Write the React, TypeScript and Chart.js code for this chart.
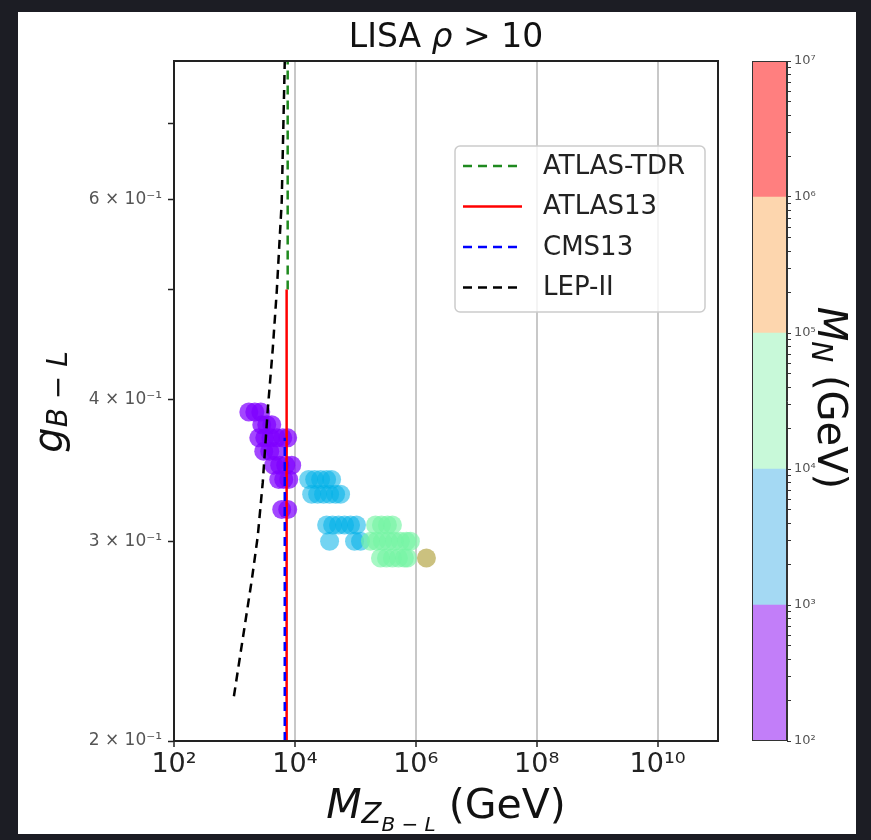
import React, { useEffect, useRef } from 'react';
import { Chart, registerables } from 'chart.js';
Chart.register(...registerables);

const FONT = 'DejaVu Sans';

// ---- axis ticks ----
const xTickValues = [1e2, 1e4, 1e6, 1e8, 1e10];
const xTickLabels = ['10²', '10⁴', '10⁶', '10⁸', '10¹⁰'];
const yTickValues = [0.2, 0.3, 0.4, 0.5, 0.6, 0.7];
const yTickLabels = ['2 × 10⁻¹', '3 × 10⁻¹', '4 × 10⁻¹', '', '6 × 10⁻¹', ''];
const xRange = [1e2, 1e11];
const yRange = [0.2, 0.795];

// ---- colorbar (M_N bins) ----
const cbBounds = [1e2, 1e3, 1e4, 1e5, 1e6, 1e7];
const cbTickLabels = ['10²', '10³', '10⁴', '10⁵', '10⁶', '10⁷'];
const cbColors = ['#c27ef9', '#a4d9f3', '#c8f9d9', '#fdd6ae', '#ff7f7f'];

// ---- collider limits ----
const atlasTdrM = [7600, 7600];
const atlasTdrG = [0.5, 0.795];
const atlas13M = [7300, 7300];
const atlas13G = [0.2, 0.5];
const cms13M = [6800, 6800];
const cms13G = [0.2, 0.37];
const lepM = [980, 1940, 2430, 2940, 3560, 4300, 5010, 6050, 6800];
const lepG = [0.219, 0.2775, 0.303, 0.338, 0.392, 0.443, 0.498, 0.597, 0.795];

// ---- LISA points (M_Z' in GeV, g_B-L), grouped by M_N bin ----
const purpleM = [1729, 2171, 2727, 2832, 3424, 4142, 2527, 3175, 3988, 5009, 6292, 7606, 3055, 3838, 4823, 4469, 5614, 7051, 8856, 5404, 6535, 7903, 6055, 7606];
const purpleG = [0.39, 0.39, 0.39, 0.38, 0.38, 0.38, 0.37, 0.37, 0.37, 0.37, 0.37, 0.37, 0.36, 0.36, 0.36, 0.35, 0.35, 0.35, 0.35, 0.34, 0.34, 0.34, 0.32, 0.32];
const blueM = [16890, 21220, 26660, 33480, 40480, 18930, 23780, 29870, 37520, 47130, 57000, 33480, 42050, 52820, 66350, 83340, 104700, 37520, 97000, 121800];
const blueG = [0.34, 0.34, 0.34, 0.34, 0.34, 0.33, 0.33, 0.33, 0.33, 0.33, 0.33, 0.31, 0.31, 0.31, 0.31, 0.31, 0.31, 0.30, 0.30, 0.30];
const greenM = [215400, 270600, 339900, 411000, 178100, 223800, 281100, 353100, 443600, 557200, 699900, 814400, 260400, 327200, 411000, 516300, 648500, 726900];
const greenG = [0.31, 0.31, 0.31, 0.31, 0.30, 0.30, 0.30, 0.30, 0.30, 0.30, 0.30, 0.30, 0.29, 0.29, 0.29, 0.29, 0.29, 0.29];
const orangeM = [1500000];
const orangeG = [0.29];

const zip = (xs: number[], ys: number[]) => xs.map((x, i) => ({ x, y: ys[i] }));

type Seg = { text: string; font: string; dy: number };

function drawSegs(ctx: CanvasRenderingContext2D, segs: Seg[], cx: number, y: number) {
  let total = 0;
  const widths = segs.map((s) => {
    ctx.font = s.font;
    const w = ctx.measureText(s.text).width;
    total += w;
    return w;
  });
  let x = cx - total / 2;
  ctx.textAlign = 'left';
  ctx.textBaseline = 'alphabetic';
  segs.forEach((s, i) => {
    ctx.font = s.font;
    ctx.fillText(s.text, x, y + s.dy);
    x += widths[i];
  });
}

const decorPlugin = {
  id: 'decor',
  afterDraw(chart: any) {
    const ctx: CanvasRenderingContext2D = chart.ctx;
    const a = chart.chartArea;
    ctx.save();
    ctx.setLineDash([]);
    ctx.strokeStyle = '#222';
    ctx.lineWidth = 2;
    ctx.strokeRect(a.left, a.top, a.right - a.left, a.bottom - a.top);

    // legend
    const bx = 455, by = 146, bw = 250, bh = 166, r = 5;
    ctx.beginPath();
    ctx.moveTo(bx + r, by);
    ctx.arcTo(bx + bw, by, bx + bw, by + bh, r);
    ctx.arcTo(bx + bw, by + bh, bx, by + bh, r);
    ctx.arcTo(bx, by + bh, bx, by, r);
    ctx.arcTo(bx, by, bx + bw, by, r);
    ctx.closePath();
    ctx.fillStyle = 'rgba(255,255,255,0.8)';
    ctx.fill();
    ctx.strokeStyle = '#cccccc';
    ctx.lineWidth = 1.5;
    ctx.stroke();
    const lines = chart.data.datasets.filter((d: any) => d.showLine);
    lines.forEach((d: any, i: number) => {
      const yy = 166 + i * 40.5;
      ctx.beginPath();
      ctx.setLineDash(d.borderDash || []);
      ctx.strokeStyle = d.borderColor;
      ctx.lineWidth = d.borderWidth;
      ctx.moveTo(463, yy);
      ctx.lineTo(522, yy);
      ctx.stroke();
      ctx.setLineDash([]);
      ctx.fillStyle = '#222';
      ctx.font = `26px "${FONT}"`;
      ctx.textAlign = 'left';
      ctx.textBaseline = 'middle';
      ctx.fillText(d.label, 543, yy + 1);
    });

    ctx.fillStyle = '#111';
    const cx = (a.left + a.right) / 2;
    // title
    drawSegs(ctx, [
      { text: 'LISA ', font: `33px "${FONT}"`, dy: 0 },
      { text: 'ρ', font: `italic 33px "${FONT}"`, dy: 0 },
      { text: ' > 10', font: `33px "${FONT}"`, dy: 0 },
    ], cx, 47);
    // x title
    drawSegs(ctx, [
      { text: 'M', font: `italic 41px "${FONT}"`, dy: 0 },
      { text: 'Z', font: `italic 29px "${FONT}"`, dy: 5 },
      { text: 'B − L', font: `italic 20px "${FONT}"`, dy: 13 },
      { text: ' (GeV)', font: `41px "${FONT}"`, dy: 0 },
    ], cx, 818);
    // y title
    ctx.save();
    ctx.translate(62, 402);
    ctx.rotate(-Math.PI / 2);
    drawSegs(ctx, [
      { text: 'g', font: `italic 40px "${FONT}"`, dy: 0 },
      { text: 'B − L', font: `italic 28px "${FONT}"`, dy: 5 },
    ], 0, 0);
    ctx.restore();
    // colorbar label
    ctx.save();
    ctx.translate(818, 398);
    ctx.rotate(Math.PI / 2);
    drawSegs(ctx, [
      { text: 'M', font: `italic 40px "${FONT}"`, dy: 0 },
      { text: 'N', font: `italic 28px "${FONT}"`, dy: 6 },
      { text: ' (GeV)', font: `40px "${FONT}"`, dy: 0 },
    ], 0, 0);
    ctx.restore();
    ctx.restore();
  },
};

const cbFramePlugin = {
  id: 'cbframe',
  afterDraw(chart: any) {
    const ctx: CanvasRenderingContext2D = chart.ctx;
    const a = chart.chartArea;
    ctx.save();
    ctx.strokeStyle = '#333';
    ctx.lineWidth = 1;
    ctx.strokeRect(a.left + 0.5, a.top + 0.5, a.right - a.left - 1, a.bottom - a.top - 1);
    ctx.restore();
  },
};

export default function App() {
  const mainRef = useRef<HTMLCanvasElement>(null);
  const cbRef = useRef<HTMLCanvasElement>(null);

  useEffect(() => {
    const lineDs = (label: string, xs: number[], ys: number[], color: string, dash: number[], width: number, order: number) => ({
      type: 'scatter' as const,
      label,
      data: zip(xs, ys),
      showLine: true,
      borderColor: color,
      backgroundColor: color,
      borderDash: dash,
      borderWidth: width,
      pointRadius: 0,
      pointHoverRadius: 0,
      fill: false,
      order,
    });
    const ptDs = (label: string, xs: number[], ys: number[], color: string, order: number) => ({
      type: 'scatter' as const,
      label,
      data: zip(xs, ys),
      showLine: false,
      backgroundColor: color,
      borderWidth: 0,
      pointRadius: 9.5,
      pointHoverRadius: 9.5,
      order,
    });

    const main = new Chart(mainRef.current!, {
      type: 'scatter',
      data: {
        datasets: [
          lineDs('ATLAS-TDR', atlasTdrM, atlasTdrG, '#1f8a1f', [9, 6], 2.5, 4),
          lineDs('ATLAS13', atlas13M, atlas13G, '#ff0000', [], 2.5, 3),
          lineDs('CMS13', cms13M, cms13G, '#0000ff', [9, 6], 2.5, 1),
          lineDs('LEP-II', lepM, lepG, '#000000', [9, 6], 2.5, 2),
          ptDs('p1', purpleM, purpleG, 'rgba(128,0,255,0.72)', 13),
          ptDs('p2', blueM, blueG, 'rgba(0,176,232,0.55)', 14),
          ptDs('p3', greenM, greenG, 'rgba(118,245,165,0.65)', 12),
          ptDs('p4', orangeM, orangeG, 'rgba(190,178,95,0.8)', 11),
        ] as any,
      },
      options: {
        animation: false,
        responsive: false,
        devicePixelRatio: 1,
        events: [],
        layout: { padding: { left: 0, right: 153, top: 61, bottom: 0 } },
        plugins: { legend: { display: false }, tooltip: { enabled: false }, title: { display: false } },
        scales: {
          x: {
            type: 'logarithmic',
            min: xRange[0],
            max: xRange[1],
            afterBuildTicks: (s: any) => { s.ticks = xTickValues.map((v) => ({ value: v })); },
            afterFit: (s: any) => { s.height = 99; },
            ticks: {
              autoSkip: false,
              maxRotation: 0,
              padding: 2,
              color: '#222',
              font: { family: FONT, size: 27 },
              callback: (_v: any, i: number) => xTickLabels[i],
            },
            grid: { color: '#c8c8c8', lineWidth: 2, tickLength: 6, tickColor: '#222', tickWidth: 1.5 },
            border: { display: true, color: '#222', width: 2 },
          },
          y: {
            type: 'logarithmic',
            min: yRange[0],
            max: yRange[1],
            afterBuildTicks: (s: any) => { s.ticks = yTickValues.map((v) => ({ value: v })); },
            afterFit: (s: any) => { s.width = 174; },
            ticks: {
              autoSkip: false,
              padding: 6,
              color: '#555',
              font: { family: FONT, size: 17 },
              callback: (_v: any, i: number) => yTickLabels[i],
            },
            grid: { drawOnChartArea: false, tickLength: 6, tickColor: '#222', tickWidth: 1.5 },
            border: { display: true, color: '#222', width: 2 },
          },
        },
      } as any,
      plugins: [decorPlugin],
    });

    const cbTicks: number[] = [];
    const cbLabels: string[] = [];
    for (let i = 0; i < cbBounds.length - 1; i++) {
      for (let k = 1; k <= 9; k++) {
        cbTicks.push(cbBounds[i] * k);
        cbLabels.push(k === 1 ? cbTickLabels[i] : '');
      }
    }
    cbTicks.push(cbBounds[cbBounds.length - 1]);
    cbLabels.push(cbTickLabels[cbTickLabels.length - 1]);

    const cb = new Chart(cbRef.current!, {
      type: 'bar',
      data: {
        labels: ['M_N'],
        datasets: cbColors.map((c, i) => ({
          label: cbTickLabels[i],
          data: [[cbBounds[i], cbBounds[i + 1]]],
          backgroundColor: c,
          borderWidth: 0,
          grouped: false,
          barPercentage: 1,
          categoryPercentage: 1,
        })) as any,
      },
      options: {
        animation: false,
        responsive: false,
        devicePixelRatio: 1,
        events: [],
        layout: { padding: { left: 52, right: 0, top: 61, bottom: 99 } },
        plugins: { legend: { display: false }, tooltip: { enabled: false } },
        scales: {
          x: { display: false },
          y: {
            type: 'logarithmic',
            position: 'right',
            min: cbBounds[0],
            max: cbBounds[cbBounds.length - 1],
            afterBuildTicks: (s: any) => { s.ticks = cbTicks.map((v) => ({ value: v })); },
            afterFit: (s: any) => { s.width = 84; },
            ticks: {
              autoSkip: false,
              padding: 3,
              color: '#555',
              font: { family: FONT, size: 13 },
              callback: (_v: any, i: number) => cbLabels[i],
            },
            grid: { drawOnChartArea: false, tickLength: 4, tickColor: '#333', tickWidth: 1 },
            border: { display: true, color: '#333', width: 1 },
          },
        },
      } as any,
      plugins: [cbFramePlugin],
    });

    return () => {
      main.destroy();
      cb.destroy();
    };
  }, []);

  return (
    <div style={{ position: 'fixed', left: 0, top: 0, width: 871, height: 840, background: '#1c1d24', overflow: 'hidden' }}>
      <div style={{ position: 'absolute', left: 18, top: 12, width: 838, height: 822, background: '#ffffff' }} />
      <canvas ref={mainRef} width={871} height={840} style={{ position: 'absolute', left: 0, top: 0, width: 871, height: 840 }} />
      <canvas ref={cbRef} width={171} height={840} style={{ position: 'absolute', left: 700, top: 0, width: 171, height: 840 }} />
    </div>
  );
}
